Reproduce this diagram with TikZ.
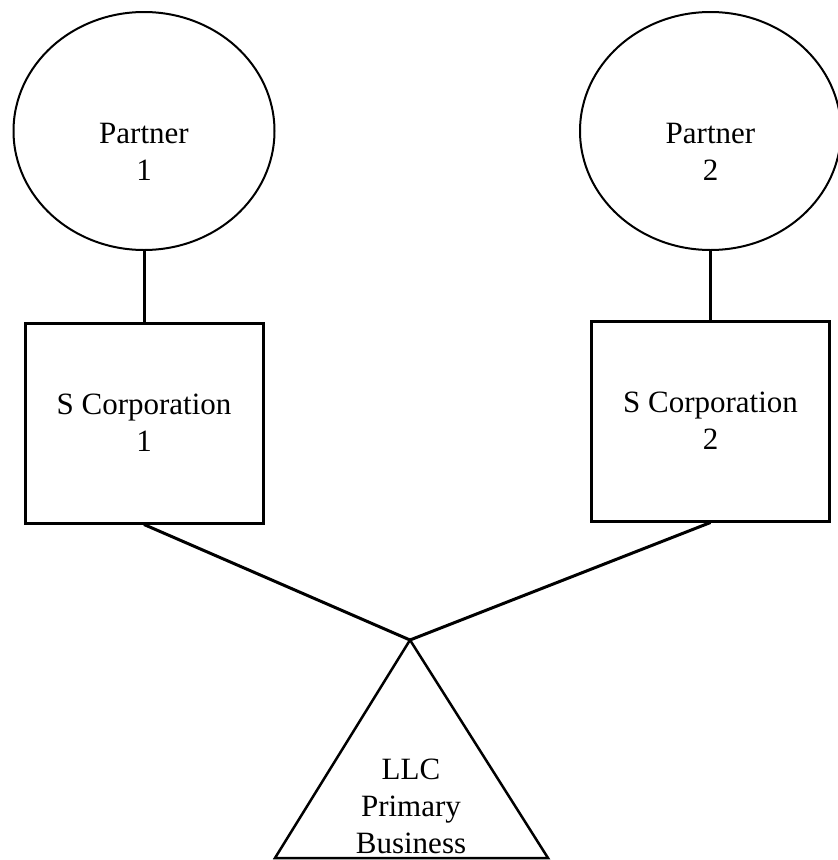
\documentclass[tikz,border=0pt]{standalone}
\usepackage{fontspec}
\setmainfont{Liberation Serif}
\usetikzlibrary{shapes.geometric}
\begin{document}
\begin{tikzpicture}[x=1pt,y=-1pt,
  partnershape/.style={draw, ellipse, line width=2pt, minimum width=261pt, minimum height=238pt, inner sep=0pt},
  corpbox/.style={draw, rectangle, line width=3pt, minimum width=238pt, minimum height=200pt, inner sep=0pt, align=center, font=\fontsize{31}{37}\selectfont},
  lbl/.style={align=center, font=\fontsize{31}{37}\selectfont, inner sep=0pt},
  link/.style={line width=3pt},
  tri/.style={line width=2.5pt, line join=miter}]
\useasboundingbox (0,0) rectangle (838,860);
\node[partnershape] (p1) at (144,131) {};
\node[partnershape] (p2) at (710.5,131) {};
\node[lbl] (p1t) at (144,152) {Partner\\1};
\node[lbl] (p2t) at (710.5,152) {Partner\\2};
\node[corpbox] (s1) at (144,423) {S Corporation\\1};
\node[corpbox] (s2) at (710.5,421) {S Corporation\\2};
\coordinate (apex) at (410,640);
\coordinate (bl) at (275,858);
\coordinate (br) at (548,858);
\draw[tri] (apex) -- (bl) -- (br) -- cycle;
\node[lbl] (llc) at (411,806) {LLC\\Primary\\Business};
\draw[link] (p1.south) -- (s1.north);
\draw[link] (p2.south) -- (s2.north);
\draw[link] (s1.south) -- (apex);
\draw[link] (s2.south) -- (apex);
\end{tikzpicture}
\end{document}
